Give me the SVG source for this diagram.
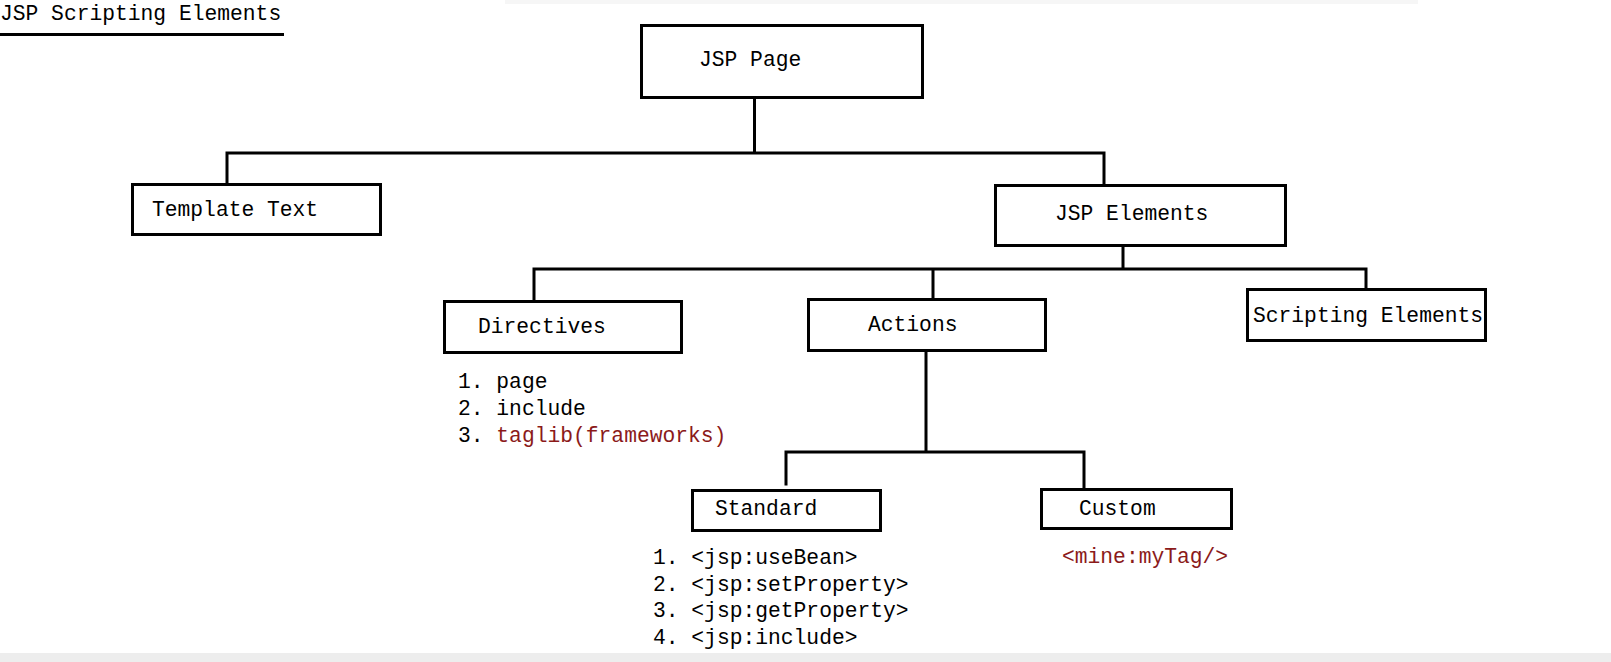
<svg xmlns="http://www.w3.org/2000/svg" width="1611" height="662" viewBox="0 0 1611 662">
  <style>
    .box { fill: #ffffff; stroke: #000000; stroke-width: 3; }
    .line { fill: none; stroke: #000000; stroke-width: 3; stroke-linecap: square; }
    .t { font-family: "Liberation Mono", "DejaVu Sans Mono", monospace; font-size: 21.3px; fill: #000000; }
    .red { fill: #8b1a1a; }
  </style>
  <rect x="0" y="0" width="1611" height="662" fill="#ffffff"/>
  <rect x="505" y="0" width="913" height="4" fill="#f6f6f6"/>
  <rect x="0" y="653" width="1611" height="9" fill="#ededed"/>

  <g id="title">
    <text class="t" x="0" y="20">JSP Scripting Elements</text>
    <rect x="0" y="33" width="284" height="3" fill="#000000"/>
  </g>

  <g id="connectors">
    <path class="line" d="M754.5 99 V153 M227 153 H1104 M227 153 V183 M1104 153 V184"/>
    <path class="line" d="M1123 247 V269 M534 269 H1366 M534 269 V300 M933 269 V298 M1366 269 V288"/>
    <path class="line" d="M926 352 V452 M786 452 H1084 M786 452 V484 M1084 452 V488"/>
  </g>

  <g id="jsp-page">
    <rect class="box" x="641.5" y="25.5" width="281" height="72"/>
    <text class="t" x="699" y="66">JSP Page</text>
  </g>

  <g id="template-text">
    <rect class="box" x="132.5" y="184.5" width="248" height="50"/>
    <text class="t" x="152" y="216">Template Text</text>
  </g>

  <g id="jsp-elements">
    <rect class="box" x="995.5" y="185.5" width="290" height="60"/>
    <text class="t" x="1055" y="220">JSP Elements</text>
  </g>

  <g id="directives">
    <rect class="box" x="444.5" y="301.5" width="237" height="51"/>
    <text class="t" x="478" y="333">Directives</text>
    <text class="t" x="458" y="388">1. page</text>
    <text class="t" x="458" y="415">2. include</text>
    <text class="t" x="458" y="442">3. <tspan class="red">taglib(frameworks)</tspan></text>
  </g>

  <g id="actions">
    <rect class="box" x="808.5" y="299.5" width="237" height="51"/>
    <text class="t" x="868" y="331">Actions</text>
  </g>

  <g id="scripting-elements">
    <rect class="box" x="1247.5" y="289.5" width="238" height="51"/>
    <text class="t" x="1253" y="322">Scripting Elements</text>
  </g>

  <g id="standard">
    <rect class="box" x="692.5" y="490.5" width="188" height="40"/>
    <text class="t" x="715" y="515">Standard</text>
    <text class="t" x="653" y="564">1. &lt;jsp:useBean&gt;</text>
    <text class="t" x="653" y="591">2. &lt;jsp:setProperty&gt;</text>
    <text class="t" x="653" y="617">3. &lt;jsp:getProperty&gt;</text>
    <text class="t" x="653" y="644">4. &lt;jsp:include&gt;</text>
  </g>

  <g id="custom">
    <rect class="box" x="1041.5" y="489.5" width="190" height="39"/>
    <text class="t" x="1079" y="515">Custom</text>
    <text class="t red" x="1062" y="563">&lt;mine:myTag/&gt;</text>
  </g>
</svg>
